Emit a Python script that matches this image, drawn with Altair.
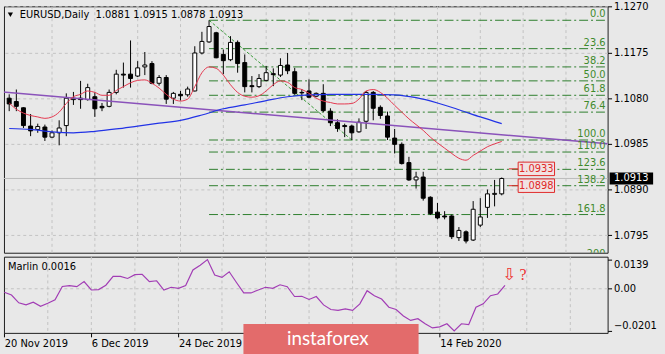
import altair as alt
import pandas as pd

# ---------------- data ----------------
# bar 0 = 20 Nov 2019 ... bar 69 = 27 Feb 2020 (daily bars, holidays skipped)
opens = [1.1080, 1.1073, 1.1060, 1.1022, 1.1015, 1.1020, 1.0999, 1.1008, 1.1023, 1.1077,
         1.1080, 1.1077, 1.1083, 1.1063, 1.1063, 1.1092, 1.1130, 1.1130, 1.1126, 1.1145,
         1.1152, 1.1111, 1.1123, 1.1080, 1.1088, 1.1087, 1.1095, 1.1174, 1.1197, 1.1216,
         1.1171, 1.1160, 1.1196, 1.1154, 1.1106, 1.1104, 1.1117, 1.1131, 1.1128, 1.1149,
         1.1135, 1.1092, 1.1095, 1.1084, 1.1090, 1.1053, 1.1029, 1.1023, 1.1022, 1.1010,
         1.1032, 1.1092, 1.1061, 1.1043, 1.0997, 1.0984, 1.0946, 1.0910, 1.0916, 1.0874,
         1.0843, 1.0835, 1.0835, 1.0790, 1.0802, 1.0785, 1.0816, 1.0853, 1.0880, 1.0881]
highs = [1.1088, 1.1098, 1.1061, 1.1047, 1.1027, 1.1025, 1.1013, 1.1034, 1.1090, 1.1093,
         1.1116, 1.1110, 1.1092, 1.1070, 1.1098, 1.1139, 1.1154, 1.1200, 1.1157, 1.1176,
         1.1157, 1.1128, 1.1128, 1.1093, 1.1095, 1.1104, 1.1188, 1.1218, 1.1242, 1.1218,
         1.1181, 1.1209, 1.1200, 1.1171, 1.1126, 1.1130, 1.1147, 1.1142, 1.1163, 1.1174,
         1.1143, 1.1099, 1.1119, 1.1092, 1.1109, 1.1059, 1.1036, 1.1027, 1.1025, 1.1038,
         1.1095, 1.1095, 1.1065, 1.1052, 1.1016, 1.0988, 1.0958, 1.0927, 1.0927, 1.0876,
         1.0862, 1.0845, 1.0838, 1.0812, 1.0805, 1.0866, 1.0872, 1.0890, 1.0910, 1.0915]
lows = [1.1053, 1.1053, 1.1018, 1.1001, 1.1008, 1.0991, 1.0997, 1.0982, 1.1001, 1.1066,
        1.1058, 1.1075, 1.1041, 1.1053, 1.1061, 1.1088, 1.1102, 1.1102, 1.1124, 1.1128,
        1.1109, 1.1106, 1.1068, 1.1068, 1.1075, 1.1083, 1.1094, 1.1171, 1.1195, 1.1163,
        1.1130, 1.1157, 1.1133, 1.1092, 1.1092, 1.1101, 1.1115, 1.1105, 1.1124, 1.1130,
        1.1087, 1.1076, 1.1080, 1.1082, 1.1051, 1.1022, 1.1010, 1.0999, 1.0993, 1.1008,
        1.1016, 1.1034, 1.1037, 1.0993, 1.0965, 1.0942, 1.0908, 1.0892, 1.0867, 1.0837,
        1.0828, 1.0828, 1.0787, 1.0783, 1.0778, 1.0783, 1.0812, 1.0831, 1.0855, 1.0878]
closes = [1.1068, 1.1063, 1.1023, 1.1012, 1.1021, 1.0999, 1.1008, 1.1018, 1.1080, 1.1080,
          1.1077, 1.1102, 1.1058, 1.1060, 1.1092, 1.1130, 1.1128, 1.1121, 1.1143, 1.1149,
          1.1111, 1.1123, 1.1078, 1.1090, 1.1085, 1.1099, 1.1174, 1.1198, 1.1229, 1.1164,
          1.1158, 1.1196, 1.1152, 1.1104, 1.1104, 1.1121, 1.1133, 1.1129, 1.1148, 1.1137,
          1.1090, 1.1091, 1.1082, 1.1090, 1.1054, 1.1029, 1.1017, 1.1021, 1.1008, 1.1030,
          1.1092, 1.1059, 1.1044, 1.0999, 1.0984, 1.0944, 1.0910, 1.0916, 1.0872, 1.0840,
          1.0831, 1.0833, 1.0792, 1.0805, 1.0783, 1.0849, 1.0833, 1.0881, 1.0882, 1.0913]

red_ma = [1.1070, 1.1057, 1.1049, 1.1044, 1.1041, 1.1038, 1.1041, 1.1051, 1.1069, 1.1083,
          1.1088, 1.1095, 1.1092, 1.1086, 1.1086, 1.1096, 1.1104, 1.1112, 1.1117, 1.1118,
          1.1111, 1.1101, 1.1088, 1.1078, 1.1074, 1.1078, 1.1104, 1.1133, 1.1145, 1.1142,
          1.1128, 1.1108, 1.1092, 1.1084, 1.1082, 1.1085, 1.1095, 1.1108, 1.1116, 1.1113,
          1.1102, 1.1098, 1.1090, 1.1080, 1.1074, 1.1071, 1.1068, 1.1068, 1.1069, 1.1078,
          1.1095, 1.1098, 1.1092, 1.1080, 1.1065, 1.1051, 1.1037, 1.1025, 1.1013, 1.0999,
          1.0987, 1.0976, 1.0965, 1.0955, 1.0951, 1.0961, 1.0970, 1.0979, 1.0985, 1.0990]

blue_bars = [0, 3, 6, 9, 12, 15, 18, 21, 24, 27, 30, 33, 36, 39, 42, 45, 48, 51, 54, 57, 60, 63, 66, 69]
blue_ma = [1.1017, 1.1015, 1.1010, 1.1008, 1.1011, 1.1016, 1.1022, 1.1028, 1.1034, 1.1045,
           1.1058, 1.1066, 1.1075, 1.1083, 1.1087, 1.1088, 1.1088, 1.1088, 1.1087, 1.1081,
           1.1070, 1.1056, 1.1041, 1.1027]

marlin = [-0.0017, -0.0030, -0.0067, -0.0077, -0.0064, -0.0084, -0.0069, -0.0053, 0.0011, 0.0015,
          0.0010, 0.0034, -0.0006, -0.0004, 0.0017, 0.0059, 0.0059, 0.0049, 0.0067, 0.0069,
          0.0034, 0.0038, -0.0006, 0.0007, 0.0002, 0.0015, 0.0090, 0.0112, 0.0139, 0.0065,
          0.0054, 0.0081, 0.0030, -0.0020, -0.0020, -0.0006, 0.0007, 0.0002, 0.0019, 0.0010,
          -0.0037, -0.0036, -0.0051, -0.0037, -0.0077, -0.0099, -0.0103, -0.0096, -0.0103, -0.0072,
          -0.0009, -0.0033, -0.0049, -0.0088, -0.0099, -0.0130, -0.0151, -0.0143, -0.0167, -0.0187,
          -0.0182, -0.0167, -0.0201, -0.0167, -0.0171, -0.0088, -0.0072, -0.0033, -0.0025, 0.0016]

fib_labels = ["0.0", "23.6", "38.2", "50.0", "61.8", "76.4", "100.0", "110.0", "123.6", "138.2", "161.8", "200"]
fib_prices = [1.1242, 1.1183, 1.1145, 1.1116, 1.1086, 1.1051, 1.0993, 1.0968, 1.0932, 1.0898, 1.0838, 1.0744]
fib_start_bar = 28
swing_bars = [28, 48]
swing_prices = [1.1242, 1.0993]

trend_bars = [-1, 84]
trend_prices = [1.1093, 1.0985]

price_ticks = [1.1270, 1.1175, 1.1080, 1.0985, 1.0890, 1.0795]
marlin_ticks = [0.0139, 0.0, -0.0201]
# labels at bars 36 and 48 lie under the watermark in the reference and are not visible
date_ticks = [0, 12, 24, 60]
date_labels = ["20 Nov 2019", "6 Dec 2019", "24 Dec 2019", "14 Feb 2020"]
grid_bars = [6, 12, 18, 24, 30, 36, 42, 48, 54, 60, 66, 72, 78]

last_price = 1.0913
level_prices = [1.0933, 1.0898]
header = "EURUSD,Daily\u00a0\u00a01.0881 1.0915 1.0878 1.0913"
marlin_title = "Marlin 0.0016"
ann_bars = [69.6, 71.5]
ann_values = [0.0063, 0.0063]
ann_texts = ["\u21e9", "?"]
watermark = "instaforex"

# ---------------- layout / style ----------------
FONT = "DejaVu Sans"
BG = "#e8e8e8"
GRID = "#c2c2c2"
W, H1, H2 = 610, 249, 77
XDOM = [-0.04, 83.14]
YDOM = [1.07586, 1.12710]
MDOM = [-0.02105, 0.01529]
PY = (YDOM[1] - YDOM[0]) / H1

xs = alt.Scale(domain=XDOM, nice=False, zero=False)
ys = alt.Scale(domain=YDOM, nice=False, zero=False)
ms = alt.Scale(domain=MDOM, nice=False, zero=False)

price_axis = alt.Axis(orient="right", values=price_ticks, format=".4f", title=None,
                      tickSize=4, tickColor="black", labelPadding=2, labelFont=FONT,
                      labelFontSize=10, labelColor="black", domain=False, grid=True,
                      gridColor=GRID, gridDash=[3, 3], labelOverlap=False)
labels_js = "[" + ",".join("'" + s + "'" for s in date_labels) + "]"
ticks_js = "[" + ",".join(str(t) for t in date_ticks) + "]"
date_axis = alt.Axis(orient="bottom", values=date_ticks, title=None,
                     labelExpr=labels_js + "[indexof(" + ticks_js + ", datum.value)]",
                     tickSize=4, tickColor="black", labelAlign="left", labelBaseline="top",
                     labelPadding=2, labelFont=FONT, labelFontSize=10, labelColor="black",
                     domain=False, grid=False, labelFlush=False, labelOverlap=False)
marlin_axis = alt.Axis(orient="right", values=marlin_ticks, title=None,
                       labelExpr="datum.value == 0 ? '0.00' : format(datum.value, '.4f')",
                       tickSize=4, tickColor="black", labelPadding=2, labelFont=FONT,
                       labelFontSize=10, labelColor="black", domain=False, grid=False,
                       labelFlush=5, labelOverlap=False)


def XM(f="i"):
    return alt.X(f"{f}:Q", scale=xs, axis=None)


def YP(f):
    return alt.Y(f"{f}:Q", scale=ys, axis=price_axis)


def XI(f="i"):
    return alt.X(f"{f}:Q", scale=xs, axis=date_axis)


def YI(f):
    return alt.Y(f"{f}:Q", scale=ms, axis=marlin_axis)


n = len(opens)
cdf = pd.DataFrame({"i": list(range(n)), "o": opens, "h": highs, "l": lows, "c": closes})
gdf = pd.DataFrame({"i": grid_bars})

vgrid = alt.Chart(gdf).mark_rule(color=GRID, strokeDash=[3, 3]).encode(x=XM())
bid = alt.Chart(pd.DataFrame({"p": [last_price]})).mark_rule(color="#bcbcbc").encode(y=YP("p"))

fdf = pd.DataFrame({"label": fib_labels, "p": fib_prices, "s": [fib_start_bar] * len(fib_labels)})
fib_lines = alt.Chart(fdf).mark_rule(color="#2d7d2d", strokeWidth=1, strokeDash=[9, 3, 2, 3], clip=True).encode(
    x=XM("s"), x2=alt.value(W), y=YP("p"))
fib_text = alt.Chart(fdf).mark_text(align="right", baseline="bottom", dy=-1, font=FONT, fontSize=10,
                                    color="#3f8a2c", clip=True).encode(
    x=alt.value(W - 2), y=YP("p"), text="label:N")
diag = alt.Chart(pd.DataFrame({"i": swing_bars, "p": swing_prices})).mark_line(
    color="#3a9a3a", strokeDash=[3, 2], strokeWidth=1, clip=True).encode(x=XM(), y=YP("p"))

wicks = alt.Chart(cdf).mark_rule(color="black", strokeWidth=1, clip=True).encode(
    x=XM(), y=YP("l"), y2=alt.Y2("h"))
bodies = alt.Chart(cdf).mark_bar(size=4, stroke="black", strokeWidth=1, clip=True).encode(
    x=XM(), y=YP("o"), y2=alt.Y2("c"),
    fill=alt.condition("datum.c >= datum.o", alt.value("white"), alt.value("black")))

purple = alt.Chart(pd.DataFrame({"i": trend_bars, "p": trend_prices})).mark_line(
    color="#8a52ba", strokeWidth=1.5, clip=True).encode(x=XM(), y=YP("p"))
blue = alt.Chart(pd.DataFrame({"i": blue_bars, "p": blue_ma})).mark_line(
    color="#2233e6", strokeWidth=1.2, interpolate="monotone", clip=True).encode(x=XM(), y=YP("p"))
red = alt.Chart(pd.DataFrame({"i": list(range(n)), "p": red_ma})).mark_line(
    color="#e5384f", strokeWidth=1, interpolate="monotone", clip=True).encode(x=XM(), y=YP("p"))

ldf = pd.DataFrame({"p": level_prices, "t": [f"{v:.4f}" for v in level_prices]})
lbase = alt.Chart(ldf).transform_calculate(
    a="70.0", b="71.3", e="76.4", m="73.85",
    top=f"datum.p + {6.8 * PY}", bot=f"datum.p - {6.8 * PY}")
lseg = lbase.mark_rule(color="#e02828").encode(x=XM("a"), x2=alt.X2("b"), y=YP("p"))
lbox = lbase.mark_rect(fill="#f1e2e2", stroke="#e02828", strokeWidth=1).encode(
    x=XM("b"), x2=alt.X2("e"), y=YP("top"), y2=alt.Y2("bot"))
ltxt = lbase.mark_text(color="#e02828", font=FONT, fontSize=10).encode(x=XM("m"), y=YP("p"), text="t:N")

hdf = pd.DataFrame({"t": [header]})
hdr = alt.Chart(hdf).mark_text(align="left", baseline="middle", font=FONT, fontSize=10, color="black").encode(
    x=alt.value(16), y=alt.value(9), text="t:N")
tri = alt.Chart(hdf).mark_point(shape="triangle-down", filled=True, color="black", size=28, opacity=1).encode(
    x=alt.value(6.5), y=alt.value(8.5))

pdf = pd.DataFrame({"p": [last_price], "t": [f"{last_price:.4f}"]})
pbase = alt.Chart(pdf).transform_calculate(top=f"datum.p + {6.0 * PY}", bot=f"datum.p - {6.0 * PY}")
pbox = pbase.mark_rect(fill="black").encode(x=alt.value(W + 2), x2=alt.value(W + 46), y=YP("top"), y2=alt.Y2("bot"))
ptxt = pbase.mark_text(color="white", font=FONT, fontSize=10).encode(x=alt.value(W + 24), y=YP("p"), text="t:N")

main = alt.layer(vgrid, bid, fib_lines, diag, wicks, bodies, purple, blue, red, fib_text,
                 lseg, lbox, ltxt, hdr, tri, pbox, ptxt).properties(width=W, height=H1)

# ---------------- Marlin panel ----------------
mdf = pd.DataFrame({"i": list(range(n)), "m": marlin})
vgrid2 = alt.Chart(gdf).mark_rule(color=GRID, strokeDash=[3, 3]).encode(x=XI())
zero = alt.Chart(pd.DataFrame({"m": [0.0]})).mark_rule(color=GRID, strokeDash=[3, 3]).encode(y=YI("m"))
mline = alt.Chart(mdf).mark_line(color="#a23db5", strokeWidth=1.2, clip=True).encode(x=XI(), y=YI("m"))
mtitle = alt.Chart(pd.DataFrame({"t": [marlin_title]})).mark_text(
    align="left", baseline="middle", font=FONT, fontSize=10, color="black").encode(
    x=alt.value(4), y=alt.value(10), text="t:N")
adf = pd.DataFrame({"i": ann_bars, "m": ann_values, "t": ann_texts})
arrow = alt.Chart(adf.iloc[:1]).mark_text(font=FONT, fontSize=17, color="#ee3030").encode(
    x=XI(), y=YI("m"), text="t:N")
quest = alt.Chart(adf.iloc[1:]).mark_text(font="Liberation Serif", fontSize=16, color="#ee3030").encode(
    x=XI(), y=YI("m"), text="t:N")
wdf = pd.DataFrame({"t": [watermark]})
wrect = alt.Chart(wdf).mark_rect(fill="#e36b6b").encode(
    x=alt.value(242), x2=alt.value(419), y=alt.value(68), y2=alt.value(101))
wtext = alt.Chart(wdf).mark_text(align="left", baseline="middle", font="Lato", fontSize=19, color="white").encode(
    x=alt.value(286), y=alt.value(83), text="t:N")

ind = alt.layer(vgrid2, zero, mline, mtitle, arrow, quest, wrect, wtext).properties(width=W, height=H2)

chart = alt.vconcat(main, ind, spacing=2).properties(
    background=BG,
    padding={"left": 3, "top": -1.5, "right": 8, "bottom": 0},
).configure_view(stroke="#1e1e1e", strokeWidth=1)

chart.save("out.html", embed_options={"renderer": "svg", "actions": False})
